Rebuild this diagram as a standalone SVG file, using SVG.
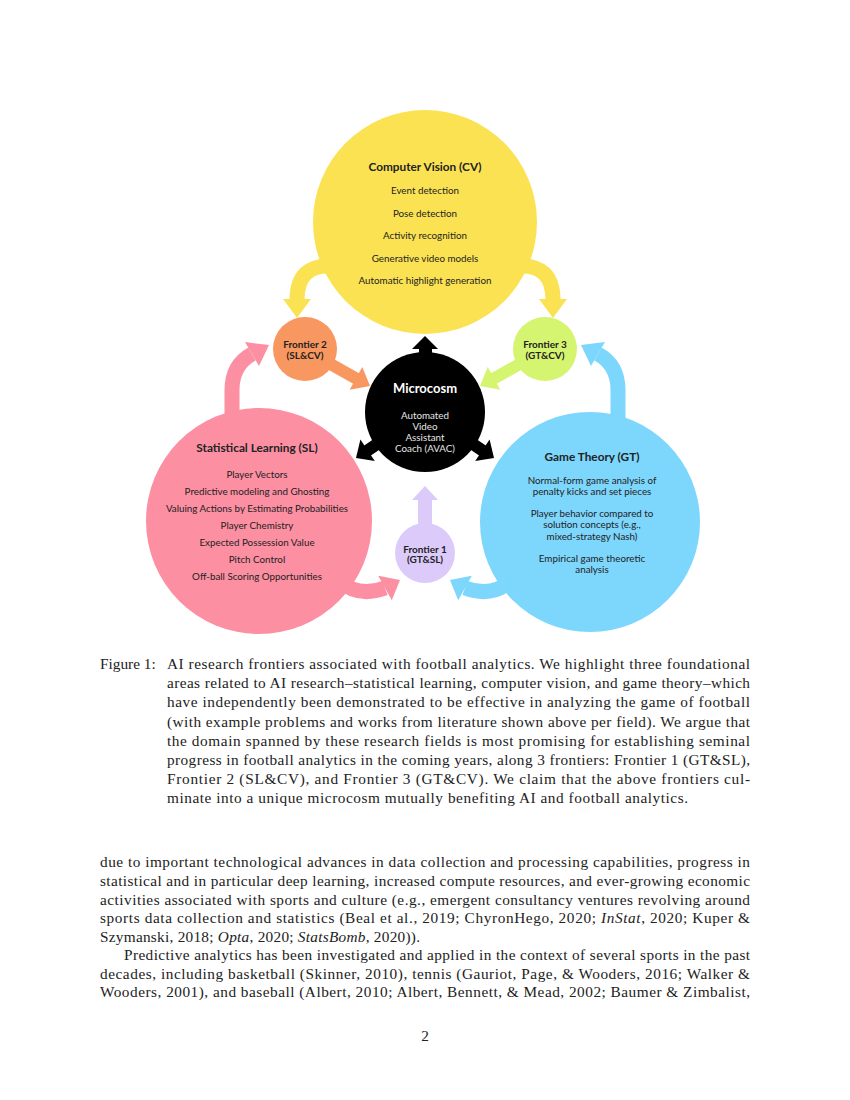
<svg xmlns="http://www.w3.org/2000/svg" width="850" height="1100" viewBox="0 0 850 1100">
<defs>
<style>
.t{font-family:Lato,"Noto Sans","DejaVu Sans",sans-serif;fill:#222;text-anchor:middle}
.h{font-size:11.8px;font-weight:bold}
.i{font-size:9.8px}
.f{font-size:10px;font-weight:bold}
.w{fill:#fff}
.wl{fill:#e6e6e6}
.cap{font-family:"Liberation Serif","Times New Roman",serif;font-size:15.3px;fill:#222}
.it{font-style:italic}
.y{fill:#FBE253}.ys{stroke:#FBE253}
.p{fill:#FC8FA2}.ps{stroke:#FC8FA2}
.b{fill:#7DD6FC}.bs{stroke:#7DD6FC}
.o{fill:#F8975F}.os{stroke:#F8975F}
.g{fill:#D5F470}.gs{stroke:#D5F470}
.l{fill:#DCCBFA}.ls{stroke:#DCCBFA}
.k{fill:#000}.ks{stroke:#000}
.band{fill:none;stroke-width:15}
.sh{fill:none;stroke-width:12}
</style>
</defs>
<rect width="850" height="1100" fill="#fff"/>
<g id="connectors">
<path class="band ys" d="M332 266 Q297 264 297 300"/>
<polygon class="y" points="283,299 311,299 297,318"/>
<path class="band ys" d="M518 266 Q553 264 553 300"/>
<polygon class="y" points="539,299 567,299 553,318"/>
<path class="band ps" d="M232 420 L232 390 Q232 365 252 354"/>
<polygon class="p" points="269,345 259,366 245,342"/>
<path class="band bs" d="M618 420 L618 390 Q618 365 598 354"/>
<polygon class="b" points="581,345 591,366 605,342"/>
<path class="band ps" d="M338 580 Q358 598 385 588"/>
<polygon class="p" points="400,580 391.8,600.2 378.2,575.8"/>
<path class="band bs" d="M512 580 Q492 598 465 588"/>
<polygon class="b" points="450,580 458.2,600.2 471.8,575.8"/>
<line class="sh os" x1="318" y1="357" x2="357" y2="379"/>
<polygon class="o" points="370,386 349.7,389.7 362.3,366.9"/>
<line class="sh gs" x1="532" y1="357" x2="493" y2="379"/>
<polygon class="g" points="480,386 500.3,389.7 487.7,366.9"/>
<rect class="l" x="418" y="498" width="14" height="30"/>
<polygon class="l" points="412,500 438,500 425,486"/>
<rect class="k" x="419" y="347" width="13" height="15"/>
<polygon class="k" points="412,349 438,349 425,336"/>
<line class="sh ks" stroke-width="13" x1="383.4" y1="439.8" x2="366.8" y2="450.9"/>
<polygon class="k" points="356,458 374.8,461.1 360.4,439.5"/>
<line class="sh ks" stroke-width="13" x1="466.6" y1="439.8" x2="483.2" y2="450.9"/>
<polygon class="k" points="494,458 475.2,461.1 489.6,439.5"/>
</g>
<g id="cv">
<circle class="y" cx="425" cy="222" r="112"/>
<text class="t h" x="425" y="171">Computer Vision (CV)</text>
<text class="t i" x="425" y="194">Event detection</text>
<text class="t i" x="425" y="216.5">Pose detection</text>
<text class="t i" x="425" y="239">Activity recognition</text>
<text class="t i" x="425" y="261.5">Generative video models</text>
<text class="t i" x="425" y="284">Automatic highlight generation</text>
</g>
<g id="sl">
<circle class="p" cx="259" cy="521" r="113"/>
<text class="t h" x="257" y="452">Statistical Learning (SL)</text>
<text class="t i" x="257" y="477.5">Player Vectors</text>
<text class="t i" x="257" y="494.5">Predictive modeling and Ghosting</text>
<text class="t i" x="257" y="511.5">Valuing Actions by Estimating Probabilities</text>
<text class="t i" x="257" y="528.5">Player Chemistry</text>
<text class="t i" x="257" y="545.5">Expected Possession Value</text>
<text class="t i" x="257" y="562.5">Pitch Control</text>
<text class="t i" x="257" y="579.5">Off-ball Scoring Opportunities</text>
</g>
<g id="gt">
<circle class="b" cx="590" cy="522" r="110"/>
<text class="t h" x="592" y="461">Game Theory (GT)</text>
<text class="t i" x="592" y="483.5">Normal-form game analysis of</text>
<text class="t i" x="592" y="495">penalty kicks and set pieces</text>
<text class="t i" x="592" y="516.5">Player behavior compared to</text>
<text class="t i" x="592" y="528">solution concepts (e.g.,</text>
<text class="t i" x="592" y="539.5">mixed-strategy Nash)</text>
<text class="t i" x="592" y="561.5">Empirical game theoretic</text>
<text class="t i" x="592" y="573">analysis</text>
</g>
<g id="microcosm">
<circle class="k" cx="425" cy="412" r="60"/>
<text class="t h w" x="425" y="392.5" style="font-size:13px">Microcosm</text>
<text class="t i wl" x="425" y="418.5">Automated</text>
<text class="t i wl" x="425" y="429.5">Video</text>
<text class="t i wl" x="425" y="440.5">Assistant</text>
<text class="t i wl" x="425" y="451.5">Coach (AVAC)</text>
</g>
<g id="frontier2">
<circle class="o" cx="305" cy="349" r="32"/>
<text class="t f" x="305" y="347.5">Frontier 2</text>
<text class="t f" x="305" y="358.5">(SL&amp;CV)</text>
</g>
<g id="frontier3">
<circle class="g" cx="545" cy="349" r="32"/>
<text class="t f" x="545" y="347.5">Frontier 3</text>
<text class="t f" x="545" y="358.5">(GT&amp;CV)</text>
</g>
<g id="frontier1">
<circle class="l" cx="425" cy="553" r="30"/>
<text class="t f" x="425" y="552.5">Frontier 1</text>
<text class="t f" x="425" y="563">(GT&amp;SL)</text>
</g>
<g id="caption">
<text class="cap" x="100" y="669">Figure 1:</text>
<text class="cap" x="167" y="669" textLength="583" lengthAdjust="spacing">AI research frontiers associated with football analytics. We highlight three foundational</text>
<text class="cap" x="167" y="688" textLength="583" lengthAdjust="spacing">areas related to AI research–statistical learning, computer vision, and game theory–which</text>
<text class="cap" x="167" y="707" textLength="583" lengthAdjust="spacing">have independently been demonstrated to be effective in analyzing the game of football</text>
<text class="cap" x="167" y="727" textLength="583" lengthAdjust="spacing">(with example problems and works from literature shown above per field). We argue that</text>
<text class="cap" x="167" y="746" textLength="583" lengthAdjust="spacing">the domain spanned by these research fields is most promising for establishing seminal</text>
<text class="cap" x="167" y="765" textLength="583" lengthAdjust="spacing">progress in football analytics in the coming years, along 3 frontiers: Frontier 1 (GT&amp;SL),</text>
<text class="cap" x="167" y="784" textLength="583" lengthAdjust="spacing">Frontier 2 (SL&amp;CV), and Frontier 3 (GT&amp;CV). We claim that the above frontiers cul-</text>
<text class="cap" x="167" y="803" textLength="521" lengthAdjust="spacing">minate into a unique microcosm mutually benefiting AI and football analytics.</text>
</g>
<g id="body">
<text class="cap" x="100" y="867" textLength="650" lengthAdjust="spacing">due to important technological advances in data collection and processing capabilities, progress in</text>
<text class="cap" x="100" y="886" textLength="650" lengthAdjust="spacing">statistical and in particular deep learning, increased compute resources, and ever-growing economic</text>
<text class="cap" x="100" y="904.5" textLength="650" lengthAdjust="spacing">activities associated with sports and culture (e.g., emergent consultancy ventures revolving around</text>
<text class="cap" x="100" y="923" textLength="650" lengthAdjust="spacing">sports data collection and statistics (Beal et al., 2019; ChyronHego, 2020; <tspan class="it">InStat</tspan>, 2020; Kuper &amp;</text>
<text class="cap" x="100" y="941.5" textLength="320" lengthAdjust="spacing">Szymanski, 2018; <tspan class="it">Opta</tspan>, 2020; <tspan class="it">StatsBomb</tspan>, 2020)).</text>
<text class="cap" x="124" y="960" textLength="626" lengthAdjust="spacing">Predictive analytics has been investigated and applied in the context of several sports in the past</text>
<text class="cap" x="100" y="978.5" textLength="650" lengthAdjust="spacing">decades, including basketball (Skinner, 2010), tennis (Gauriot, Page, &amp; Wooders, 2016; Walker &amp;</text>
<text class="cap" x="100" y="997" textLength="650" lengthAdjust="spacing">Wooders, 2001), and baseball (Albert, 2010; Albert, Bennett, &amp; Mead, 2002; Baumer &amp; Zimbalist,</text>
<text class="cap" x="425" y="1041" text-anchor="middle">2</text>
</g>
</svg>
